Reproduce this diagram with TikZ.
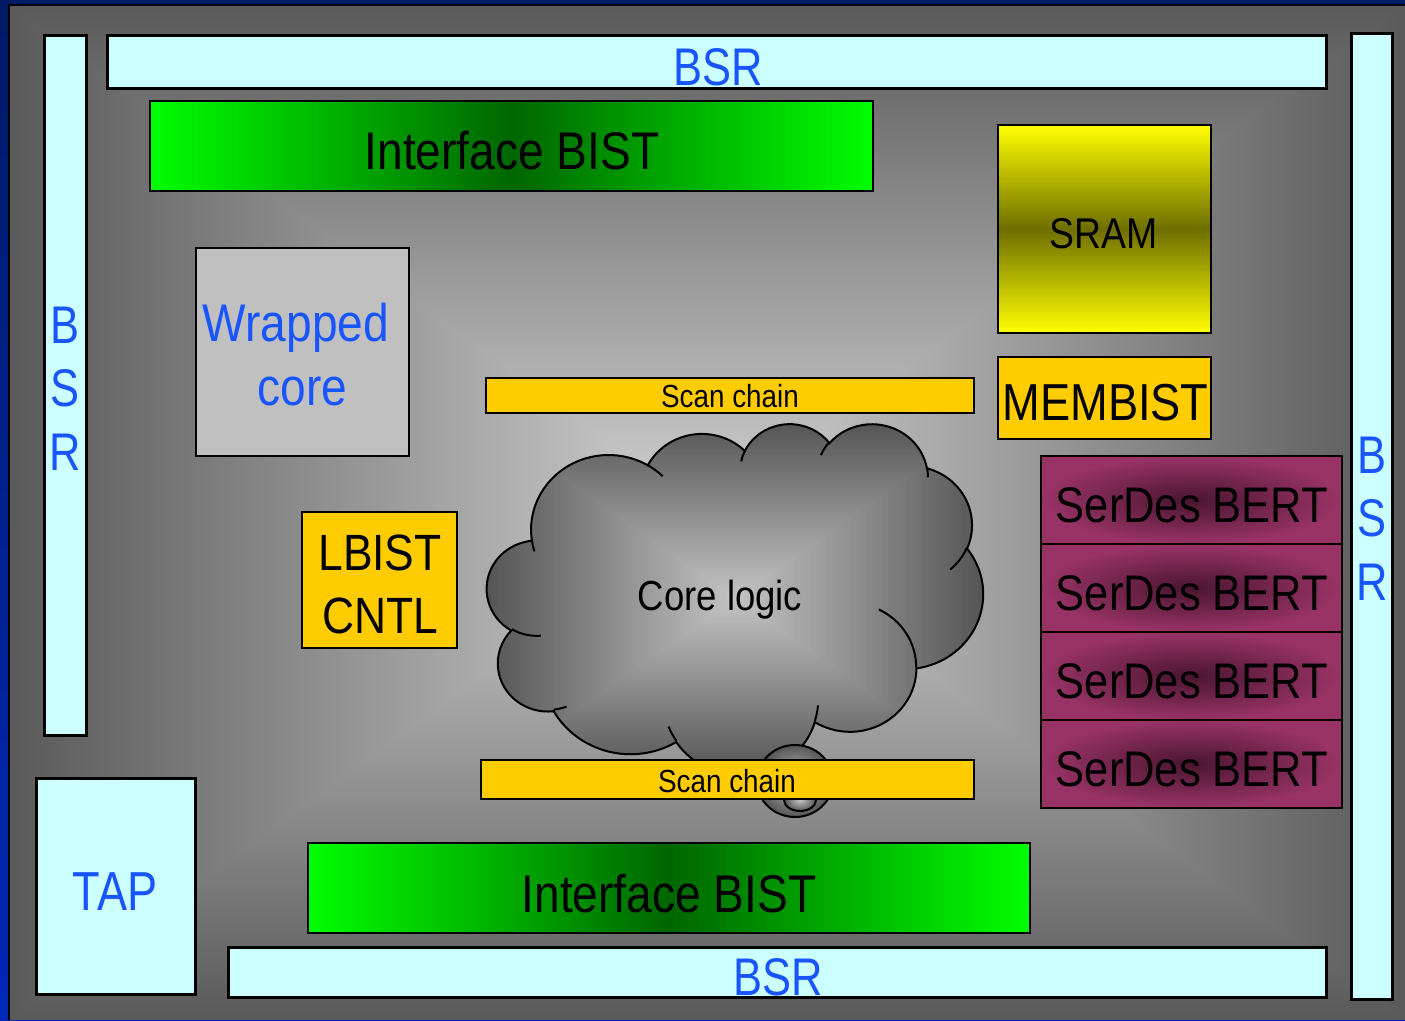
\documentclass[tikz,border=0pt]{standalone}
\usepackage{fontspec}
\setmainfont{Liberation Sans}
\newfontfamily\condf[FakeStretch=0.87]{Liberation Sans}
\newfontfamily\condb[FakeStretch=0.82]{Liberation Sans}
\definecolor{bsrfill}{HTML}{CCFFFF}
\definecolor{bsrtext}{HTML}{1955FF}
\definecolor{gbright}{HTML}{00FF00}
\definecolor{gdark}{HTML}{006600}
\definecolor{ybright}{HTML}{FFFF00}
\definecolor{ydark}{HTML}{6E6E00}
\definecolor{amber}{HTML}{FFCC00}
\definecolor{spink}{HTML}{993366}
\definecolor{sdark}{HTML}{4A1630}
\definecolor{wcore}{HTML}{C0C0C0}
\definecolor{bginner}{HTML}{D2D2D2}
\definecolor{bgouter}{HTML}{5A5A5A}
\definecolor{clinner}{HTML}{C4C4C4}
\definecolor{clouter}{HTML}{555555}
\definecolor{navytop}{HTML}{001A66}
\definecolor{navybot}{HTML}{0028B8}
% convert OOXML arc angles (geometric) into parametric angles
\newcommand\ooang[5]{%
  \pgfmathsetmacro\tmpOOa{atan2((#2)*sin(#4),(#3)*cos(#4))}%
  \pgfmathsetmacro\tmpOOb{atan2((#2)*sin((#4)+(#5)),(#3)*cos((#4)+(#5)))}%
  \pgfmathsetmacro\tmpOOb{\tmpOOb+360*(\tmpOOb<\tmpOOa)}%
  \expandafter\xdef\csname cl#1s\endcsname{\tmpOOa}%
  \expandafter\xdef\csname cl#1e\endcsname{\tmpOOb}%
}
\ooang{A}{6.753}{9.190}{-190.48748}{123.78053}
\ooang{B}{5.333}{7.267}{-144.10238}{89.94523}
\ooang{C}{4.365}{5.945}{-145.80792}{99.72302}
\ooang{D}{4.857}{6.595}{-130.98607}{117.24173}
\ooang{E}{5.333}{7.273}{-78.70888}{109.02692}
\ooang{F}{6.775}{9.220}{-46.26725}{130.26900}
\ooang{G}{5.785}{7.867}{0.62502}{114.03333}
\ooang{H}{6.752}{9.215}{22.45160}{115.17255}
\ooang{I}{7.720}{10.543}{66.24263}{75.71102}
\ooang{J}{4.360}{5.918}{-274.94208}{146.73557}
\ooang{K}{4.345}{5.945}{-246.82850}{152.51885}
\ooang{a}{4.345}{5.945}{86.74200}{26.42950}
\ooang{b}{4.360}{5.918}{73.61047}{11.44747}
\ooang{c}{6.752}{9.215}{137.62415}{14.08110}
\ooang{d}{6.752}{9.215}{6.45327}{15.99835}
\ooang{e}{5.785}{7.867}{-70.29235}{70.91737}
\ooang{f}{5.333}{7.273}{30.31803}{27.75150}
\ooang{g}{4.857}{6.595}{-13.74433}{14.85890}
\ooang{h}{4.857}{6.595}{-149.18145}{18.19537}
\ooang{i}{4.365}{5.945}{-163.49427}{17.68635}
\ooang{j}{6.753}{9.190}{-66.70695}{12.31935}
\ooang{k}{6.753}{9.190}{157.65435}{11.85817}
\newcommand\cloudpath{(3.900,14.370)
  arc[start angle=\clAs,end angle=\clAe,x radius=6.753,y radius=9.190]
  arc[start angle=\clBs,end angle=\clBe,x radius=5.333,y radius=7.267]
  arc[start angle=\clCs,end angle=\clCe,x radius=4.365,y radius=5.945]
  arc[start angle=\clDs,end angle=\clDe,x radius=4.857,y radius=6.595]
  arc[start angle=\clEs,end angle=\clEe,x radius=5.333,y radius=7.273]
  arc[start angle=\clFs,end angle=\clFe,x radius=6.775,y radius=9.220]
  arc[start angle=\clGs,end angle=\clGe,x radius=5.785,y radius=7.867]
  arc[start angle=\clHs,end angle=\clHe,x radius=6.752,y radius=9.215]
  arc[start angle=\clIs,end angle=\clIe,x radius=7.720,y radius=10.543]
  arc[start angle=\clJs,end angle=\clJe,x radius=4.360,y radius=5.918]
  arc[start angle=\clKs,end angle=\clKe,x radius=4.345,y radius=5.945]
  -- cycle}
\tikzset{
  blk/.style={draw=black,line width=2.5pt,inner sep=0pt,outer sep=0pt,anchor=center},
  bsrbox/.style={blk,fill=bsrfill,line width=3pt},
  amberbox/.style={blk,fill=amber},
  ibist/.style={blk,left color=gbright,right color=gbright,middle color=gdark},
  sram/.style={blk,top color=ybright,bottom color=ybright,middle color=ydark},
  serdes/.style={blk,line width=2pt,inner color=sdark,outer color=spink,
    minimum width=301pt,minimum height=88pt},
  wcorebox/.style={blk,fill=wcore},
  btxt/.style={font={\condb\fontsize{53}{60}\selectfont},text=bsrtext,inner sep=0pt,anchor=base},
  ktxt/.style={font={\condf\fontsize{#1}{#1}\selectfont},text=black,inner sep=0pt,anchor=base},
  wtxt/.style={font={\condf\fontsize{53}{60}\selectfont},text=bsrtext,inner sep=0pt,anchor=base},
  crease/.style={line width=2pt,draw=black},
}
\begin{document}
\begin{tikzpicture}[x=1pt,y=-1pt]
\useasboundingbox (0,0) rectangle (1405,1020);
% frame and background
\shade[top color=navytop,bottom color=navybot] (0,0) rectangle (1405,1020);
\begin{scope}
  \clip (9,5) rectangle (1405,1020);
  \foreach \i in {0,...,120}{
    \pgfmathsetmacro\scl{1-\i/120}
    \pgfmathsetmacro\pct{100*\i/120}
    \fill[bginner!\pct!bgouter] ({707-\scl*698},{512.5-\scl*507.5}) rectangle ({707+\scl*698},{512.5+\scl*507.5});
  }
\end{scope}
\draw[line width=2pt] (9,1020) -- (9,5) -- (1405,5);
% BSR boxes
\node[bsrbox,minimum width=1219pt,minimum height=53pt] (bsrT) at (716.5,61.5) {};
\node[bsrbox,minimum width=42pt,minimum height=700pt] (bsrL) at (65,385) {};
\node[bsrbox,minimum width=41pt,minimum height=966pt] (bsrR) at (1371.5,516) {};
\node[bsrbox,minimum width=1098pt,minimum height=50pt] (bsrB) at (777,972) {};
\node[bsrbox,minimum width=159pt,minimum height=216pt] (tap) at (115.5,886) {};
% interface BIST
\node[ibist,minimum width=723pt,minimum height=90pt] (ibT) at (511.5,146) {};
\node[ibist,minimum width=722pt,minimum height=90pt] (ibB) at (669,888) {};
% memory
\node[sram,minimum width=213pt,minimum height=208pt] (sram) at (1104.5,229) {};
\node[amberbox,minimum width=213pt,minimum height=82pt] (membist) at (1104.5,398) {};
% wrapped core, LBIST
\node[wcorebox,minimum width=213pt,minimum height=208pt] (wcore) at (302.5,352) {};
\node[amberbox,minimum width=155pt,minimum height=136pt] (lbist) at (379.5,580) {};
% SerDes
\node[serdes] (sd1) at (1191.5,500) {};
\node[serdes] (sd2) at (1191.5,588) {};
\node[serdes] (sd3) at (1191.5,676) {};
\node[serdes] (sd4) at (1191.5,763.5) {};
% cloud
\begin{scope}[shift={(487,423)},x=11.481pt,y=-8.125pt]
  \begin{scope}
    \clip \cloudpath;
    \foreach \i in {0,...,80}{
      \pgfmathsetmacro\scl{1-\i/80}
      \pgfmathsetmacro\pct{100*\i/80}
      \fill[clinner!\pct!clouter] ({21.6-\scl*21.7},{21.6-\scl*21.7}) rectangle ({21.6+\scl*21.7},{21.6+\scl*21.7});
    }
  \end{scope}
  \draw[line width=2pt] \cloudpath;
  \draw[crease] (4.693,26.177) arc[start angle=\clas,end angle=\clae,x radius=4.345,y radius=5.945];
  \draw[crease] (6.928,34.899) arc[start angle=\clbs,end angle=\clbe,x radius=4.360,y radius=5.918];
  \draw[crease] (16.478,39.090) arc[start angle=\clcs,end angle=\clce,x radius=6.752,y radius=9.215];
  \draw[crease] (28.827,34.751) arc[start angle=\clds,end angle=\clde,x radius=6.752,y radius=9.215];
  \draw[crease] (34.129,22.954) arc[start angle=\cles,end angle=\clee,x radius=5.785,y radius=7.867];
  \draw[crease] (41.798,15.354) arc[start angle=\clfs,end angle=\clfe,x radius=5.333,y radius=7.273];
  \draw[crease] (38.324,5.426) arc[start angle=\clgs,end angle=\clge,x radius=4.857,y radius=6.595];
  \draw[crease] (29.078,3.952) arc[start angle=\clhs,end angle=\clhe,x radius=4.857,y radius=6.595];
  \draw[crease] (22.141,4.720) arc[start angle=\clis,end angle=\clie,x radius=4.365,y radius=5.945];
  \draw[crease] (14.000,5.192) arc[start angle=\cljs,end angle=\clje,x radius=6.753,y radius=9.190];
  \draw[crease] (4.127,15.789) arc[start angle=\clks,end angle=\clke,x radius=6.753,y radius=9.190];
  \coordinate (cloudc) at (21.6,21.6);
\end{scope}
% callout bubbles
\shade[inner color=clinner,outer color=clouter,draw=black,line width=2pt] (795,781) ellipse [x radius=38,y radius=36];
\shade[inner color=clinner,outer color=clouter,draw=black,line width=2pt] (800,800) ellipse [x radius=16,y radius=11];
% scan chains
\node[amberbox,minimum width=488pt,minimum height=35pt] (scanT) at (730,395.5) {};
\node[amberbox,minimum width=493pt,minimum height=39pt] (scanB) at (727.5,779.5) {};
% texts
\node[btxt] (tBsrT) at (718,85) {BSR};
\node[btxt] (tBsrB) at (778,995) {BSR};
\node[btxt] (tL1) at (65,343) {B};
\node[btxt] (tL2) at (65,406) {S};
\node[btxt] (tL3) at (65,470) {R};
\node[btxt] (tR1) at (1372,473) {B};
\node[btxt] (tR2) at (1372,536) {S};
\node[btxt] (tR3) at (1372,600) {R};
\node[btxt,font={\condb\fontsize{55}{60}\selectfont}] (tTap) at (115,910) {TAP};
\node[ktxt=53] (tIbT) at (512,169) {Interface BIST};
\node[ktxt=53] (tIbB) at (669,912) {Interface BIST};
\node[ktxt=43] (tSram) at (1104,248) {SRAM};
\node[ktxt=52] (tMem) at (1105.5,420) {MEMBIST};
\node[ktxt=32] (tScanT) at (730,407) {Scan chain};
\node[ktxt=32] (tScanB) at (727,792) {Scan chain};
\node[wtxt] (tW1) at (296,341.5) {Wrapped};
\node[wtxt] (tW2) at (302.5,405) {core};
\node[ktxt=51] (tL1b) at (380,570) {LBIST};
\node[ktxt=51] (tL2b) at (380,633) {CNTL};
\node[ktxt=50] (tSd1) at (1192,522) {SerDes BERT};
\node[ktxt=50] (tSd2) at (1192,610) {SerDes BERT};
\node[ktxt=50] (tSd3) at (1192,698) {SerDes BERT};
\node[ktxt=50] (tSd4) at (1192,786) {SerDes BERT};
\node[ktxt=42] (tCore) at (720,610) {Core logic};
\end{tikzpicture}
\end{document}
